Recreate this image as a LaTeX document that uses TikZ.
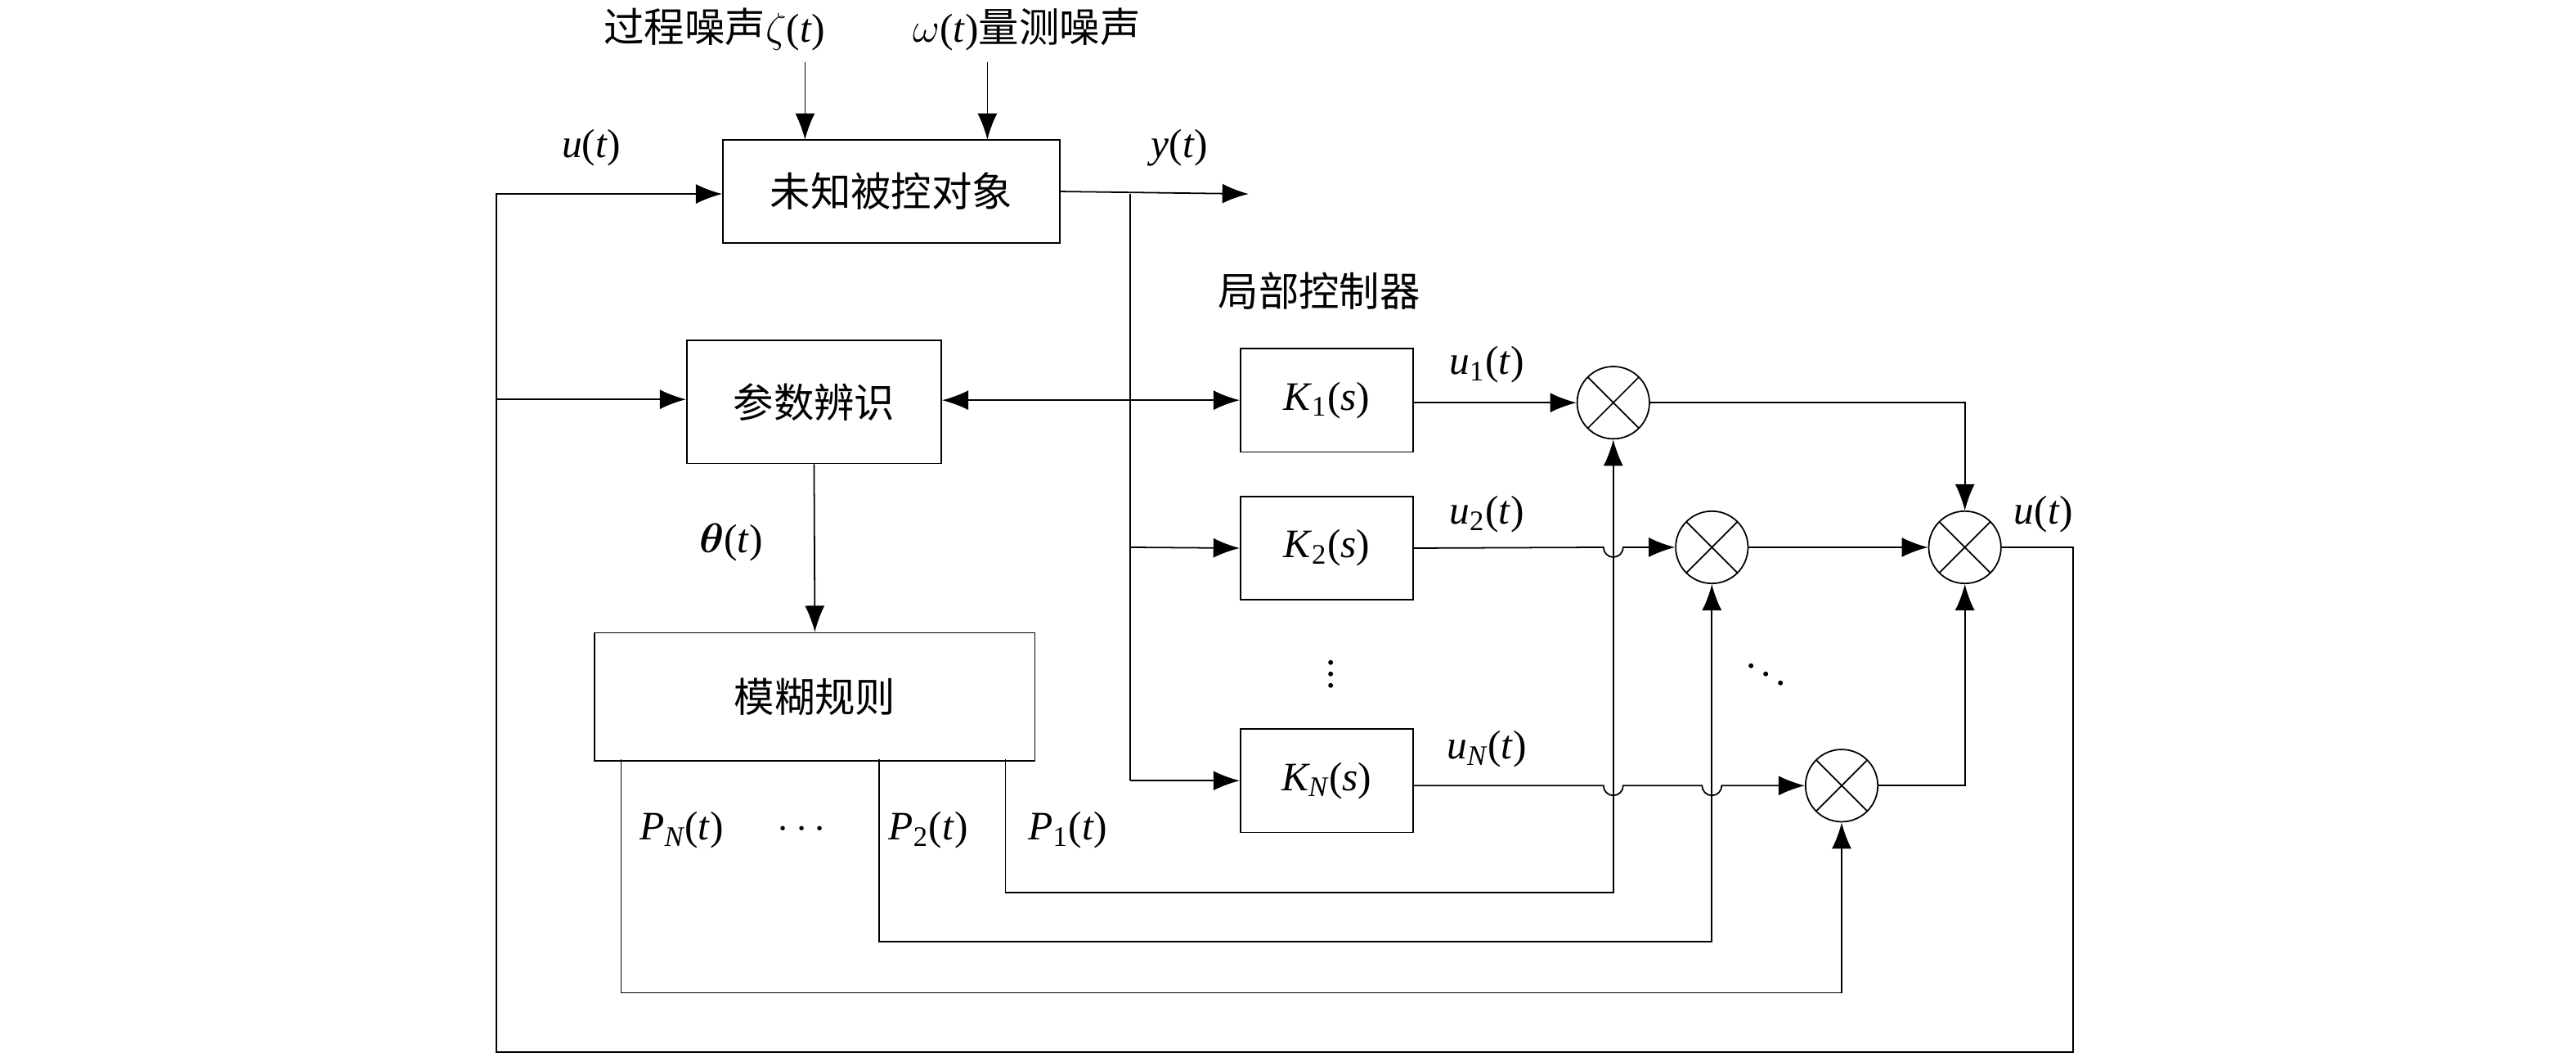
\documentclass[tikz,border=0pt]{standalone}
\usepackage{fontspec}
\usepackage{amsmath}
\setmainfont{Liberation Serif}
\newfontfamily\cjk{Noto Sans CJK SC}
\usetikzlibrary{arrows.meta}
\newcommand{\tv}[1]{\textit{#1}(\textit{t})}
\begin{document}
\begin{tikzpicture}[x=0.02cm, y=-0.02cm, >={Latex[length=3.2mm,width=2.4mm]}, line width=0.5pt,
  font=\fontsize{14}{16}\selectfont]
\tikzset{blk/.style={draw, rectangle, inner sep=0pt},
  sum/.style={draw, circle, minimum size=0.88cm, inner sep=0pt,
    path picture={\draw (path picture bounding box.north west) -- (path picture bounding box.south east)
      (path picture bounding box.north east) -- (path picture bounding box.south west);}},
  lbl/.style={inner sep=1pt}}
\useasboundingbox (0,0) rectangle (1568,643);
% blocks
\node (plant)[blk, minimum width=4.1cm, minimum height=1.26cm] at (542.5,116.5) {\cjk 未知被控对象};
\node (ident)[blk, minimum width=3.1cm, minimum height=1.5cm] at (495.5,244.5) {\cjk 参数辨识};
\node (fuzzy)[blk, minimum width=5.36cm, minimum height=1.56cm] at (496,424) {\cjk 模糊规则};
\node (k1)[blk, minimum width=2.1cm, minimum height=1.26cm] at (807.5,243.5) {\textit{K}\textsubscript{1}(\textit{s})};
\node (k2)[blk, minimum width=2.1cm, minimum height=1.26cm] at (807.5,333.5) {\textit{K}\textsubscript{2}(\textit{s})};
\node (kn)[blk, minimum width=2.1cm, minimum height=1.26cm] at (807.5,475) {\textit{K\textsubscript{N}}(\textit{s})};
\node (s1)[sum] at (982,245) {};
\node (s2)[sum] at (1042,333) {};
\node (sn)[sum] at (1121,478) {};
\node (sum)[sum] at (1196,333) {};
% labels
\node (zeta)[lbl] at (435,18) {{\cjk 过程噪声}$\zeta$(\textit{t})};
\node (omega)[lbl] at (625,18) {$\omega$(\textit{t}){\cjk 量测噪声}};
\node[lbl] at (360,90) {\tv{u}};
\node[lbl] at (718,90) {\tv{y}};
\node[lbl] at (803,177) {\cjk 局部控制器};
\node[lbl] at (445,330) {$\boldsymbol{\theta}$(\textit{t})};
\node[lbl] at (905,222) {\textit{u}\textsubscript{1}(\textit{t})};
\node[lbl] at (905,313) {\textit{u}\textsubscript{2}(\textit{t})};
\node[lbl] at (905,456) {\textit{u\textsubscript{N}}(\textit{t})};
\node[lbl] at (1244,313) {\tv{u}};
\node[lbl] at (810,405) {$\vdots$};
\node[lbl] at (1075,405) {$\ddots$};
\node[lbl] at (415,505) {\textit{P\textsubscript{N}}(\textit{t})};
\node[lbl] at (490,505) {$\cdots$};
\node[lbl] at (565,505) {\textit{P}\textsubscript{2}(\textit{t})};
\node[lbl] at (650,505) {\textit{P}\textsubscript{1}(\textit{t})};
\coordinate (yout) at (760,118);
% noise inputs
\draw[->] (490,38) -- (490,85);
\draw[->] (601,38) -- (601,85);
% plant output and split
\draw[->] (plant.east) -- (yout);
\draw (688,118) -- (688,475);
\draw[<->] (ident.east |- k1.west) -- (k1.west);
\draw[->] (688,333) -- (k2.west);
\draw[->] (688,475) -- (kn.west);
% feedback of u(t)
\draw[->] (sum.east) -- (1262,333) -- (1262,640) -- (302,640) -- (302,118) -- (plant.west |- 302,118);
\draw[->] (302,243) -- (ident.west |- 302,243);
\draw[->] (ident.south) -- (fuzzy.north);
% controller outputs
\draw[->] (k1.east |- s1) -- (s1.west);
\draw[->] (k2.east) -- (976,333) arc (180:0:6) -- (s2.west);
\draw[->] (kn.east |- sn) -- (976,478) arc (180:0:6) -- (1036,478) arc (180:0:6) -- (sn.west);
\draw[->] (s1.east) -- (1196,245) -- (sum.north);
\draw[->] (s2.east) -- (sum.west);
\draw[->] (sn.east) -- (1196,478) -- (sum.south);
% weights
\draw[->] (612,462) -- (612,543) -- (982,543) -- (s1.south);
\draw[->] (535,462) -- (535,573) -- (1042,573) -- (s2.south);
\draw[->] (378,462) -- (378,604) -- (1121,604) -- (sn.south);
\end{tikzpicture}
\end{document}
